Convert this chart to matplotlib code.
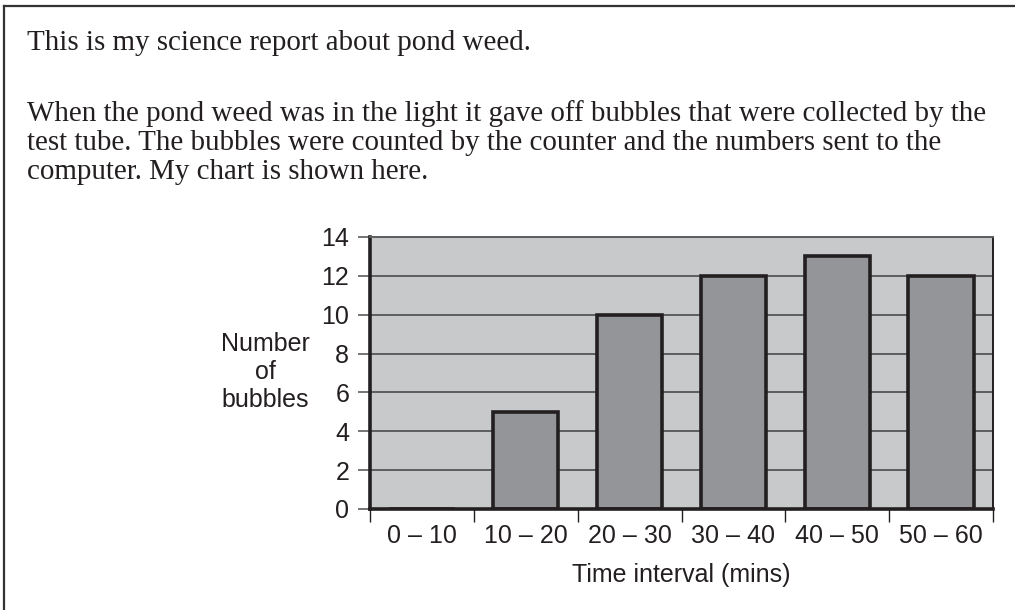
import matplotlib
matplotlib.use("Agg")
import matplotlib.pyplot as plt
from matplotlib.lines import Line2D

# data
intervals = ["0 – 10", "10 – 20", "20 – 30", "30 – 40", "40 – 50", "50 – 60"]
bubbles = [0, 5, 10, 12, 13, 12]
y_ticks = [0, 2, 4, 6, 8, 10, 12, 14]

intro_lines = [
    "This is my science report about pond weed.",
    "When the pond weed was in the light it gave off bubbles that were collected by the",
    "test tube. The bubbles were counted by the counter and the numbers sent to the",
    "computer. My chart is shown here.",
]
intro_baselines = [50, 121, 150, 179]  # pixels from top

W, H = 1015, 610
INK = "#231f20"
GRID = "#5d5e60"
SANS = 18

fig = plt.figure(figsize=(W / 100, H / 100), dpi=100)

# frame of the page box (only top and left edges are inside the picture)
fig.add_artist(Line2D([4 / W, 1.0], [1 - 6 / H, 1 - 6 / H], color="#333333", lw=1.6))
fig.add_artist(Line2D([4 / W, 4 / W], [1 - 6 / H, 0.0], color="#333333", lw=1.6))

for line, base in zip(intro_lines, intro_baselines):
    fig.text(27 / W, 1 - base / H, line, fontsize=20.9, family="Liberation Serif",
             color=INK, va="baseline", ha="left")

ax = fig.add_axes([370 / W, 1 - 509 / H, (993 - 370) / W, (509 - 237) / H])
ax.set_facecolor("#c8c9cb")

x = list(range(len(intervals)))
ax.bar(x, bubbles, width=0.63, color="#939598", edgecolor=INK, linewidth=2.6, zorder=3)

ax.set_xlim(-0.5, len(intervals) - 0.5)
ax.set_ylim(0, 14)

ax.set_yticks(y_ticks)
ax.yaxis.grid(True, color=GRID, lw=1.4, zorder=1)
ax.set_axisbelow(True)
ax.tick_params(axis="y", length=9, width=1.2, color=GRID, pad=6,
               labelsize=SANS, labelcolor=INK)
for lab in ax.get_yticklabels():
    lab.set_family("Liberation Sans")

# boundaries as major ticks, labels at category centres as minor ticks
ax.set_xticks([i - 0.5 for i in range(len(intervals) + 1)])
ax.set_xticklabels([])
ax.set_xticks(x, minor=True)
ax.set_xticklabels(intervals, minor=True, fontsize=SANS, family="Liberation Sans", color=INK)
ax.tick_params(axis="x", which="major", length=9, width=1.0, color=INK, direction="out")
ax.tick_params(axis="x", which="minor", length=0, pad=11)

for side in ("left", "bottom"):
    ax.spines[side].set_color(INK)
    ax.spines[side].set_linewidth(2.6)
ax.spines["top"].set_color(GRID)
ax.spines["top"].set_linewidth(1.4)
ax.spines["right"].set_color(INK)
ax.spines["right"].set_linewidth(1.4)
ax.spines["bottom"].set_zorder(4)

fig.text(265 / W, 1 - 372 / H, "Number\nof\nbubbles", fontsize=SANS, family="Liberation Sans",
         color=INK, ha="center", va="center", linespacing=1.2)
fig.text(681 / W, 1 - 575 / H, "Time interval (mins)", fontsize=SANS, family="Liberation Sans",
         color=INK, ha="center", va="center")

fig.savefig("out.png", dpi=100, facecolor="white")
